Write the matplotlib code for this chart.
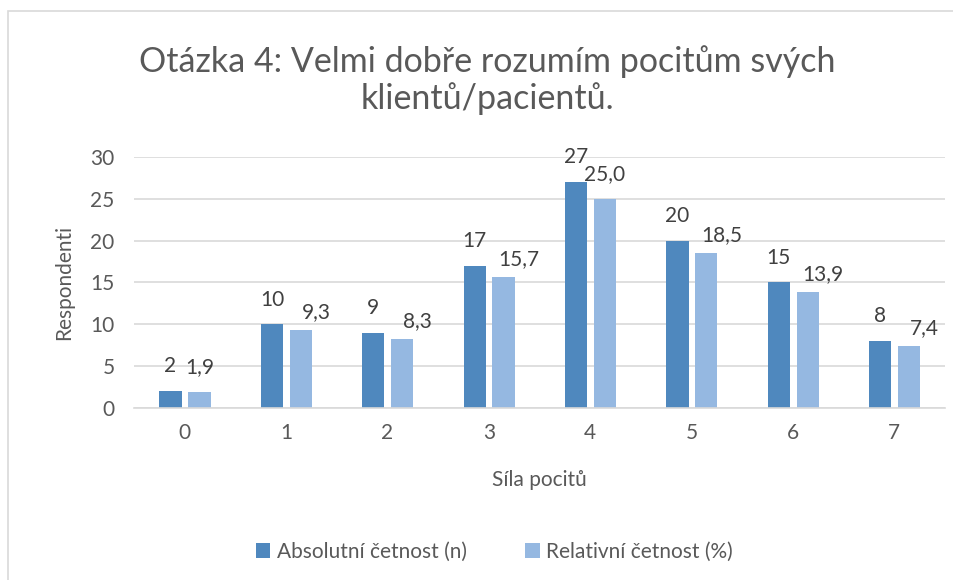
import matplotlib.pyplot as plt
from matplotlib.patches import Rectangle
import numpy as np

plt.rcParams['font.family'] = ['Lato', 'DejaVu Sans']

categories = ['0', '1', '2', '3', '4', '5', '6', '7']
absolute = [2, 10, 9, 17, 27, 20, 15, 8]
relative = [1.9, 9.3, 8.3, 15.7, 25.0, 18.5, 13.9, 7.4]
abs_labels = ['2', '10', '9', '17', '27', '20', '15', '8']
rel_labels = ['1,9', '9,3', '8,3', '15,7', '25,0', '18,5', '13,9', '7,4']
# Excel nudged some of the light labels sideways to avoid the dark ones
rel_shifted = [False, True, True, True, False, True, True, True]

dark = '#4F88BE'
light = '#95B8E1'
text_col = '#595959'
grid_col = '#D9D9D9'

fig = plt.figure(figsize=(9.54, 5.8), dpi=100)
fig.patches.append(Rectangle((8 / 954, -0.01), 1.0, 1 - 11 / 580 + 0.01,
                             transform=fig.transFigure, fill=False,
                             edgecolor=grid_col, linewidth=1.2))

ax = fig.add_axes([0.1405, 0.2966, 0.8501, 0.4327])

x = np.arange(len(categories))
w = 0.22
b1 = ax.bar(x - 0.14, absolute, width=w, color=dark, label='Absolutní četnost (n)')
b2 = ax.bar(x + 0.145, relative, width=w, color=light, label='Relativní četnost (%)')

for rect, lab in zip(b1, abs_labels):
    ax.annotate(lab, (rect.get_x() + rect.get_width() / 2, rect.get_height()),
                xytext=(0, 13.5), textcoords='offset points',
                ha='center', va='baseline', fontsize=15, color='#404040')
for rect, lab, sh in zip(b2, rel_labels, rel_shifted):
    off = (11, 8.5) if sh else (0, 13.5)
    ax.annotate(lab, (rect.get_x() + rect.get_width() / 2, rect.get_height()),
                xytext=off, textcoords='offset points',
                ha='center', va='baseline', fontsize=15, color='#404040')

ax.set_xlim(-0.5, len(categories) - 0.5)
ax.set_ylim(0, 30)
ax.set_yticks(range(0, 31, 5))
ax.set_xticks(x)
ax.set_xticklabels(categories)
ax.yaxis.grid(True, color=grid_col, linewidth=1.2)
ax.set_axisbelow(True)
for s in ['top', 'right', 'left']:
    ax.spines[s].set_visible(False)
ax.spines['bottom'].set_color(grid_col)
ax.spines['bottom'].set_linewidth(1.2)
ax.tick_params(axis='both', length=0, labelsize=15, labelcolor=text_col)
ax.tick_params(axis='y', pad=14)
ax.tick_params(axis='x', pad=11)

ax.set_xlabel('Síla pocitů', fontsize=15, color=text_col, labelpad=19)
ax.set_ylabel('Respondenti', fontsize=15, color=text_col, labelpad=12)

fig.text(0.511, 0.862, 'Otázka 4: Velmi dobře rozumím pocitům svých\nklientů/pacientů.',
         ha='center', va='center', fontsize=24.5, color=text_col, linespacing=1.18)

fig.legend(loc='center', bbox_to_anchor=(0.518, 0.049), ncol=2, frameon=False,
           fontsize=15, labelcolor=text_col, handlelength=0.7, handleheight=0.7,
           handletextpad=0.3, columnspacing=2.8)

fig.savefig('out.png', dpi=100)
